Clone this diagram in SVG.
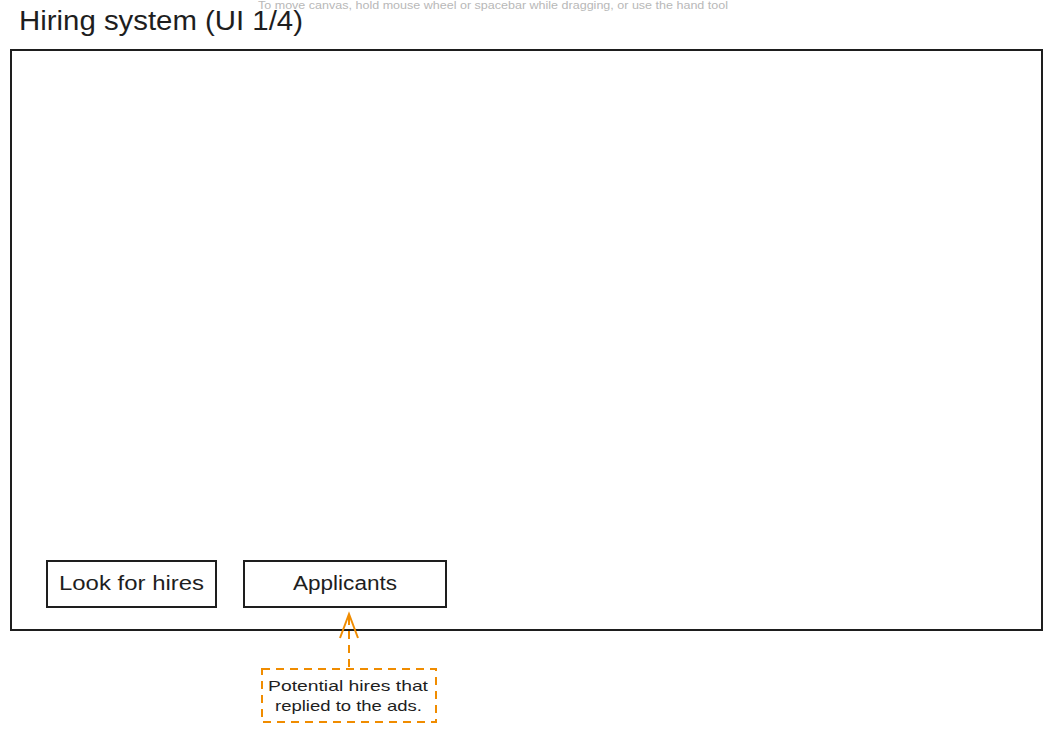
<svg xmlns="http://www.w3.org/2000/svg" width="1054" height="730" viewBox="0 0 1054 730">
<style>
.hand{font-family:"Liberation Sans","DejaVu Sans",sans-serif;fill:#1e1e1e}
.box{fill:#ffffff;stroke:#1e1e1e;stroke-width:2}
.note{fill:none;stroke:#f08c00;stroke-width:2;stroke-dasharray:8 6}
</style>
<rect width="1054" height="730" fill="#ffffff"/>
<text x="258" y="9" font-family="'Liberation Sans',sans-serif" font-size="11" fill="#b8b8b8" textLength="470" lengthAdjust="spacingAndGlyphs">To move canvas, hold mouse wheel or spacebar while dragging, or use the hand tool</text>
<g id="title"><text class="hand" x="19" y="30" font-size="27" textLength="284" lengthAdjust="spacingAndGlyphs">Hiring system (UI 1/4)</text></g>
<g id="frame"><rect class="box" x="11" y="50" width="1031" height="580"/></g>
<g id="look-for-hires"><rect class="box" x="47" y="561" width="169" height="46"/><text class="hand" x="59" y="590" font-size="20" textLength="145" lengthAdjust="spacingAndGlyphs">Look for hires</text></g>
<g id="applicants"><rect class="box" x="244" y="561" width="202" height="46"/><text class="hand" x="293" y="590" font-size="20" textLength="104" lengthAdjust="spacingAndGlyphs">Applicants</text></g>
<g id="note"><rect class="note" x="262" y="669" width="174" height="53"/><text class="hand" x="268" y="691" font-size="15" textLength="160" lengthAdjust="spacingAndGlyphs">Potential hires that</text><text class="hand" x="275" y="711" font-size="15" textLength="147" lengthAdjust="spacingAndGlyphs">replied to the ads.</text></g>
<g id="connectors" fill="none" stroke="#f08c00" stroke-width="2">
<path d="M349 667 L349 615" stroke-dasharray="8 6"/>
<path d="M340 638 L349 614 L358 638"/>
</g>
</svg>
